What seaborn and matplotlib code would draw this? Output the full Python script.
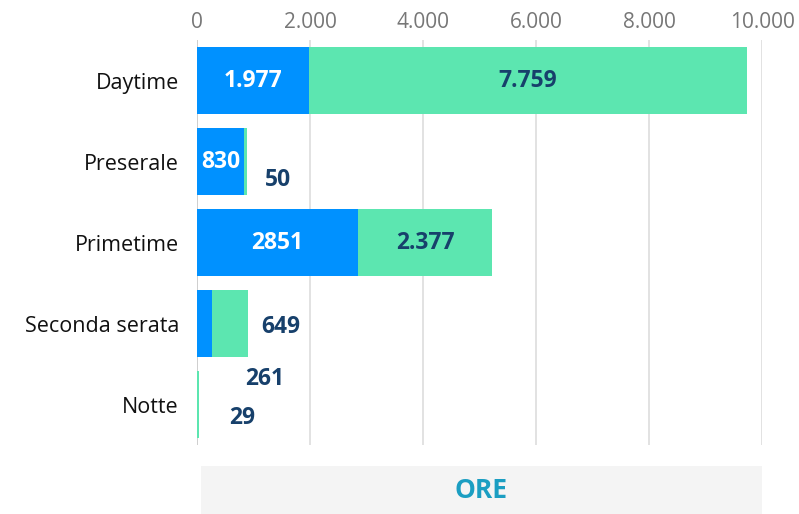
import numpy as np
import pandas as pd
import matplotlib
matplotlib.use('Agg')
import matplotlib.pyplot as plt
import seaborn as sns

# ============================================================
# DATA
# ============================================================
categories = ['Daytime', 'Preserale', 'Primetime', 'Seconda serata', 'Notte']
blue_values = [1977, 830, 2851, 261, 0]
green_values = [7759, 50, 2377, 649, 29]
blue_labels = ['1.977', '830', '2851', '261', '']
green_labels = ['7.759', '50', '2.377', '649', '29']
tick_values = [0, 2000, 4000, 6000, 8000, 10000]
tick_labels = ['0', '2.000', '4.000', '6.000', '8.000', '10.000']
axis_title = 'ORE'

BLUE = '#0091ff'
GREEN = '#5ce6b0'
NAVY = '#17406b'

# ============================================================
# PLOT
# ============================================================
sns.set_style('white')
plt.rcParams['font.family'] = ['Open Sans', 'DejaVu Sans']

df = pd.DataFrame({
    'cat': categories,
    'blue': blue_values,
    'total': np.array(blue_values) + np.array(green_values),
})

fig = plt.figure(figsize=(7.99, 5.14), dpi=100)
ax = fig.add_axes([197 / 799, 1 - 445 / 514, 565 / 799, 405 / 514])

sns.barplot(data=df, x='total', y='cat', color=GREEN, saturation=1,
            width=0.82, linewidth=0, ax=ax, zorder=2)
sns.barplot(data=df, x='blue', y='cat', color=BLUE, saturation=1,
            width=0.82, linewidth=0, ax=ax, zorder=3)

ax.set_xlim(0, 10000)
ax.set_ylim(4.5, -0.5)
ax.xaxis.tick_top()
ax.set_xticks(tick_values)
ax.set_xticklabels(tick_labels, fontsize=15, color='#777777')
ax.tick_params(axis='x', length=0, pad=5)
ax.tick_params(axis='y', length=0, pad=13, labelsize=15.5)
for lbl in ax.get_yticklabels():
    lbl.set_color('#111111')
ax.set_xlabel('')
ax.set_ylabel('')
ax.grid(axis='x', color='#dddddd', linewidth=1.2, zorder=0)
for s in ax.spines.values():
    s.set_visible(False)
ax.axvline(0, color='#cccccc', linewidth=1.2, zorder=1)

# labels inside segments where they fit, otherwise offset to the right
label_kw = dict(fontsize=16.5, fontweight='bold', ha='center', va='center', zorder=5)
outside = {
    ('green', 1): (31, 18),
    ('green', 3): (32, 3),
    ('blue', 3): (53, 55),
    ('green', 4): (44, 13),
}
for i in range(len(categories)):
    b = blue_values[i]
    g = green_values[i]
    if blue_labels[i]:
        if ('blue', i) in outside:
            dx, dy = outside[('blue', i)]
            ax.annotate(blue_labels[i], (b, i), xytext=(dx, -dy),
                        textcoords='offset pixels', color=NAVY, **label_kw)
        else:
            ax.text(b / 2, i, blue_labels[i], color='white', **label_kw)
    if green_labels[i]:
        if ('green', i) in outside:
            dx, dy = outside[('green', i)]
            ax.annotate(green_labels[i], (b + g, i), xytext=(dx, -dy),
                        textcoords='offset pixels', color=NAVY, **label_kw)
        else:
            ax.text(b + g / 2, i, green_labels[i], color=NAVY, **label_kw)

# axis title box
tax = fig.add_axes([201 / 799, 0, 561 / 799, 48 / 514])
tax.set_facecolor('#f4f4f4')
tax.set_xticks([])
tax.set_yticks([])
for s in tax.spines.values():
    s.set_visible(False)
tax.text(0.5, 0.5, axis_title, ha='center', va='center', fontsize=19,
         fontweight='bold', color='#1b9ec2', transform=tax.transAxes)

fig.savefig('out.png', dpi=100)
